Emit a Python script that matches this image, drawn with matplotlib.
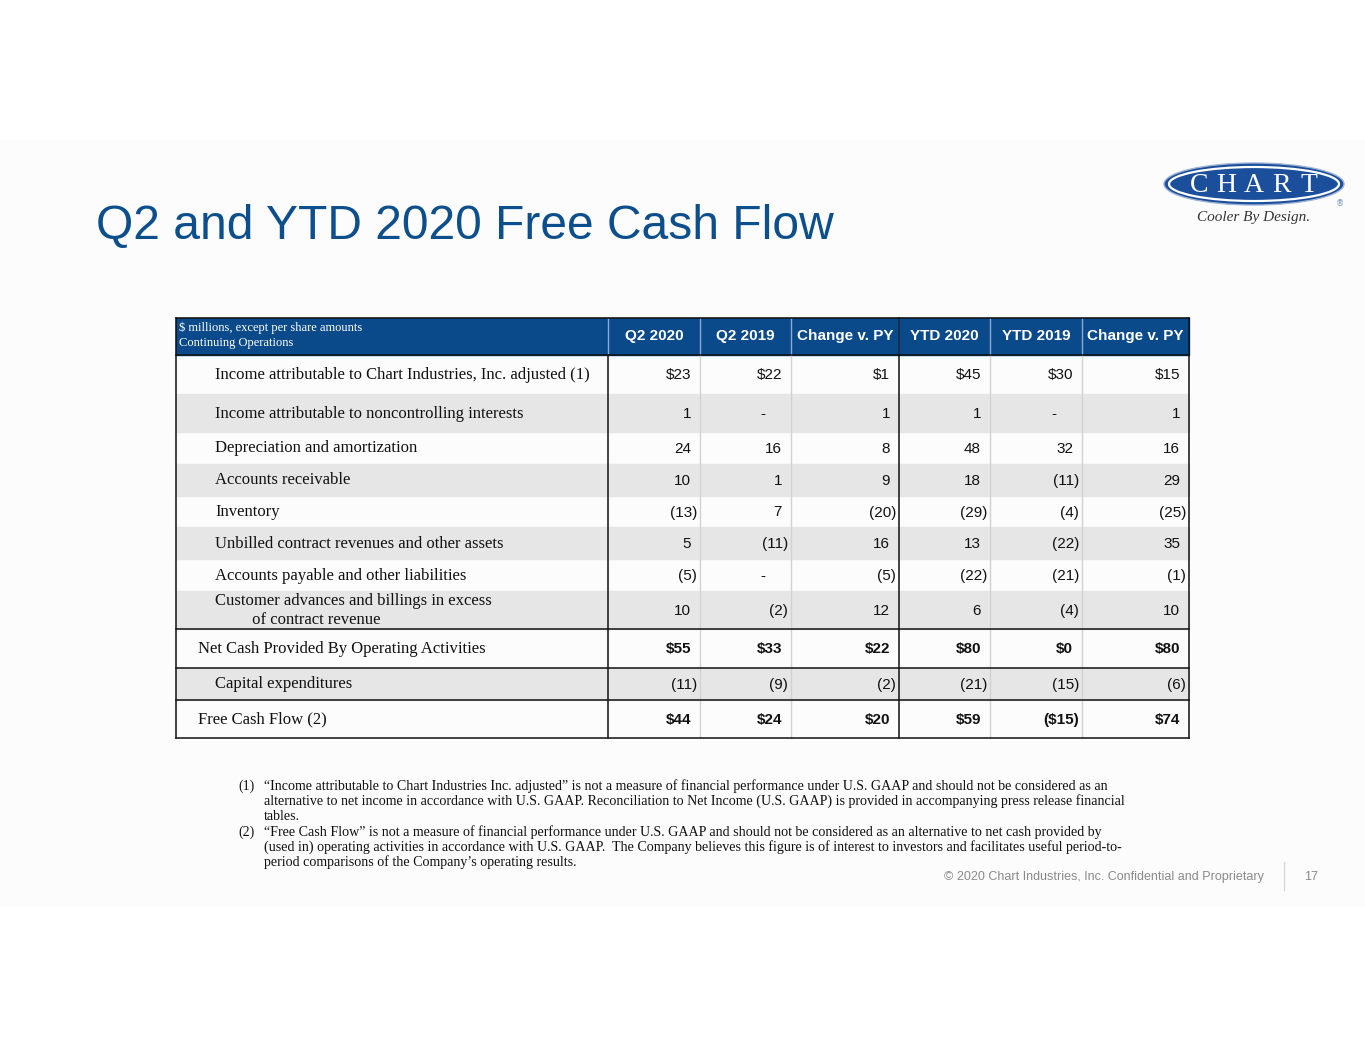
import matplotlib
matplotlib.use("Agg")
import matplotlib.pyplot as plt
from matplotlib.patches import Rectangle, Ellipse

# table data ($ millions), 0 shown as "-" unless row is a $ row
row_labels = [
    "Income attributable to Chart Industries, Inc. adjusted (1)",
    "Income attributable to noncontrolling interests",
    "Depreciation and amortization",
    "Accounts receivable",
    "Inventory",
    "Unbilled contract revenues and other assets",
    "Accounts payable and other liabilities",
    "Customer advances and billings in excess\n         of contract revenue",
    "Net Cash Provided By Operating Activities",
    "Capital expenditures",
    "Free Cash Flow (2)",
]
col_labels = ["Q2 2020", "Q2 2019", "Change v. PY", "YTD 2020", "YTD 2019", "Change v. PY"]
q2_2020 = [23, 1, 24, 10, -13, 5, -5, 10, 55, -11, 44]
q2_2019 = [22, 0, 16, 1, 7, -11, 0, -2, 33, -9, 24]
chg_q2 = [1, 1, 8, 9, -20, 16, -5, 12, 22, -2, 20]
ytd_2020 = [45, 1, 48, 18, -29, 13, -22, 6, 80, -21, 59]
ytd_2019 = [30, 0, 32, -11, -4, -22, -21, -4, 0, -15, -15]
chg_ytd = [15, 1, 16, 29, -25, 35, -1, 10, 80, -6, 74]
dollar_rows = [0, 8, 10]
bold_rows = [8, 10]
total_rows = [8, 10]

footnotes = [
    ("(1)", ["\u201cIncome attributable to Chart Industries Inc. adjusted\u201d is not a measure of financial performance under U.S. GAAP and should not be considered as an",
             "alternative to net income in accordance with U.S. GAAP. Reconciliation to Net Income (U.S. GAAP) is provided in accompanying press release financial",
             "tables."]),
    ("(2)", ["\u201cFree Cash Flow\u201d is not a measure of financial performance under U.S. GAAP and should not be considered as an alternative to net cash provided by",
             "(used in) operating activities in accordance with U.S. GAAP.  The Company believes this figure is of interest to investors and facilitates useful period-to-",
             "period comparisons of the Company\u2019s operating results."]),
]

BLUE = "#0b4a8a"
TITLE_BLUE = "#0d4f8d"
GRAY = "#e6e6e6"
SANS = "Liberation Sans"
SERIF = "Liberation Serif"

fig = plt.figure(figsize=(13.65, 10.55), dpi=100)
ax = fig.add_axes([0, 0, 1, 1])
ax.set_xlim(0, 1365)
ax.set_ylim(1055, 0)
ax.axis("off")

ax.add_patch(Rectangle((0, 140), 1365, 765, color="#fcfcfc", zorder=0))

ax.text(96, 226, "Q2 and YTD 2020 Free Cash Flow", fontsize=34.6, color=TITLE_BLUE,
        family=SANS, va="center", ha="left")

# logo
ax.add_patch(Ellipse((1254, 184), 180, 42, facecolor="#1b4f9b", edgecolor="#9fb3d6", lw=1))
ax.add_patch(Ellipse((1254, 184), 170, 34, facecolor="none", edgecolor="white", lw=1.6))
for i, ch in enumerate("CHART"):
    ax.text(1199 + i * 27.5, 185, ch, color="white", family=SERIF, fontsize=20,
            ha="center", va="center")
ax.text(1340, 204, "\u00ae", color="#6f8fb8", fontsize=6, ha="center", va="center")
ax.text(1254, 218, "Cooler By Design.", family=SERIF, style="italic", fontsize=11,
        color="#333333", ha="center", va="center")

# table geometry
x_left, x_right = 176, 1189
col_edges = [608, 700, 791, 899, 990, 1082, 1189]
head_top, head_bot = 318, 355
row_edges = [355, 394, 432, 464, 496, 527, 559, 591, 629, 668, 700, 738]

ax.add_patch(Rectangle((x_left, head_top), x_right - x_left, head_bot - head_top,
                       color=BLUE, zorder=1))
ax.text(179, 328, "$ millions, except per share amounts", color="white", family=SERIF,
        fontsize=9, va="center", ha="left", zorder=3)
ax.text(179, 343, "Continuing Operations", color="white", family=SERIF,
        fontsize=9, va="center", ha="left", zorder=3)
for j, lab in enumerate(col_labels):
    cx = (col_edges[j] + col_edges[j + 1]) / 2
    ax.text(cx, 336, lab, color="white", family=SANS, weight="bold", fontsize=11,
            ha="center", va="center", zorder=3)
for x in [608, 700, 791, 990, 1082]:
    ax.plot([x, x], [head_top, head_bot], color="#8ea9cf", lw=1, zorder=2)
ax.plot([899, 899], [head_top, head_bot], color="#1a2a40", lw=1.2, zorder=2)

columns = [q2_2020, q2_2019, chg_q2, ytd_2020, ytd_2019, chg_ytd]

def fmt(v, dollar):
    if v == 0 and not dollar:
        return "-"
    s = ("$" if dollar else "") + str(abs(v))
    return "(" + s + ")" if v < 0 else s

for i, lab in enumerate(row_labels):
    y0, y1 = row_edges[i], row_edges[i + 1]
    yc = (y0 + y1) / 2
    if i % 2 == 1:
        ax.add_patch(Rectangle((x_left, y0), x_right - x_left, y1 - y0, color=GRAY, zorder=1))
    lx = 198 if i in total_rows else 215
    ax.text(lx, yc + 0.5, lab, family=SERIF, fontsize=12, color="#111111",
            ha="left", va="center", linespacing=1.2, zorder=3)
    for j, col in enumerate(columns):
        v = col[i]
        s = fmt(v, i in dollar_rows)
        right = col_edges[j + 1]
        if s == "-":
            xr = right - 26
        elif v < 0:
            xr = right - 3
        else:
            xr = right - 9
        ax.text(xr, yc + 1, s, family=SANS, fontsize=11,
                weight="bold" if i in bold_rows else "normal",
                color="#111111", ha="right", va="center", zorder=3)

y_top, y_bot = row_edges[0], row_edges[-1]
for x in [700, 791, 990, 1082]:
    ax.plot([x, x], [y_top, y_bot], color="#d2d2d2", lw=1, zorder=2)
for x in [x_left, 608, 899, x_right]:
    ax.plot([x, x], [head_top if x in (x_left, x_right) else y_top, y_bot],
            color="#111111", lw=1.1, zorder=4)
for y in [head_top, head_bot, 629, 668, 700, 738]:
    ax.plot([x_left, x_right], [y, y], color="#111111", lw=1.1, zorder=4)

# footnotes
fy = 786
for num, lines in footnotes:
    ax.text(238, fy, num, family=SERIF, fontsize=10, color="#111111", va="center")
    for ln in lines:
        ax.text(264, fy, ln, family=SERIF, fontsize=10.1, color="#111111", va="center")
        fy += 15.3

ax.text(1264, 877, "\u00a9 2020 Chart Industries, Inc. Confidential and Proprietary",
        family=SANS, fontsize=9, color="#8a8a8a", ha="right", va="center")
ax.plot([1284, 1284], [862, 890], color="#d8d8d8", lw=1)
ax.text(1311, 877, "17", family=SANS, fontsize=9, color="#8a8a8a", ha="center", va="center")

fig.savefig("out.png", dpi=100)
